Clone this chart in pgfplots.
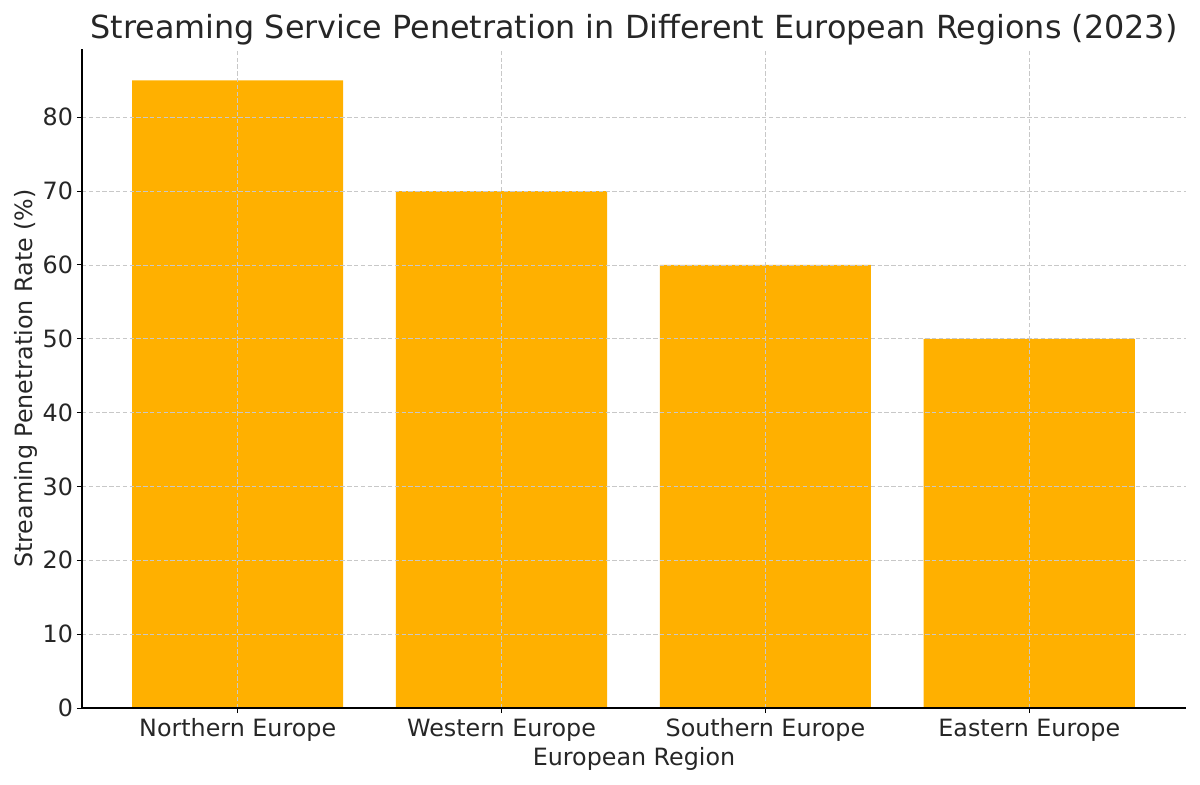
\documentclass[border=0pt]{standalone}
\usepackage{fontspec}
\setmainfont{DejaVu Sans}
\usepackage{pgfplots}
\pgfplotsset{compat=1.18}
\definecolor{barc}{HTML}{FFB000}
\definecolor{txt}{HTML}{262626}
\definecolor{gridc}{HTML}{C8C8C8}
\begin{document}
\begin{tikzpicture}
\useasboundingbox (-41pt,-38pt) rectangle (559pt,354pt);
\begin{axis}[
  at={(0,0)}, anchor=south west,
  scale only axis,
  width=552pt, height=329.5pt,
  xmin=-0.59, xmax=3.594,
  ymin=0, ymax=89.25,
  axis x line*=bottom, axis y line*=left,
  axis line style={line width=0.6pt, color=black, -},
  xtick={0,1,2,3},
  xticklabels={Northern Europe, Western Europe, Southern Europe, Eastern Europe},
  ytick={0,10,20,30,40,50,60,70,80},
  tick align=outside,
  major tick length=2.5pt,
  tick style={line width=0.5pt, color=black},
  ticklabel style={font=\fontsize{11.9}{13}\selectfont, color=txt},
  xticklabel style={anchor=base, yshift=-11.5pt},
  yticklabel style={xshift=1.5pt},
  /pgf/number format/assume math mode=true,
  grid=major,
  grid style={gridc, line width=0.4pt, dash pattern=on 2.2pt off 1.2pt},
  axis on top,
  xlabel={European Region},
  ylabel={Streaming Penetration Rate (\%)},
  label style={font=\fontsize{11.9}{13}\selectfont, color=txt},
  xlabel style={at={(axis description cs:0.5,-0.0865)}, anchor=base},
  ylabel style={at={(axis description cs:-0.0444,0.5)}, anchor=base},
  title={Streaming Service Penetration in Different European Regions (2023)},
  every axis title/.style={font=\fontsize{15.9}{18}\selectfont, color=txt, at={(0.5,1.0167)}, anchor=base},
]
\addplot[ybar, bar width=0.8, fill=barc, draw=none] coordinates {(0,85) (1,70) (2,60) (3,50)};
\end{axis}
\end{tikzpicture}
\end{document}
